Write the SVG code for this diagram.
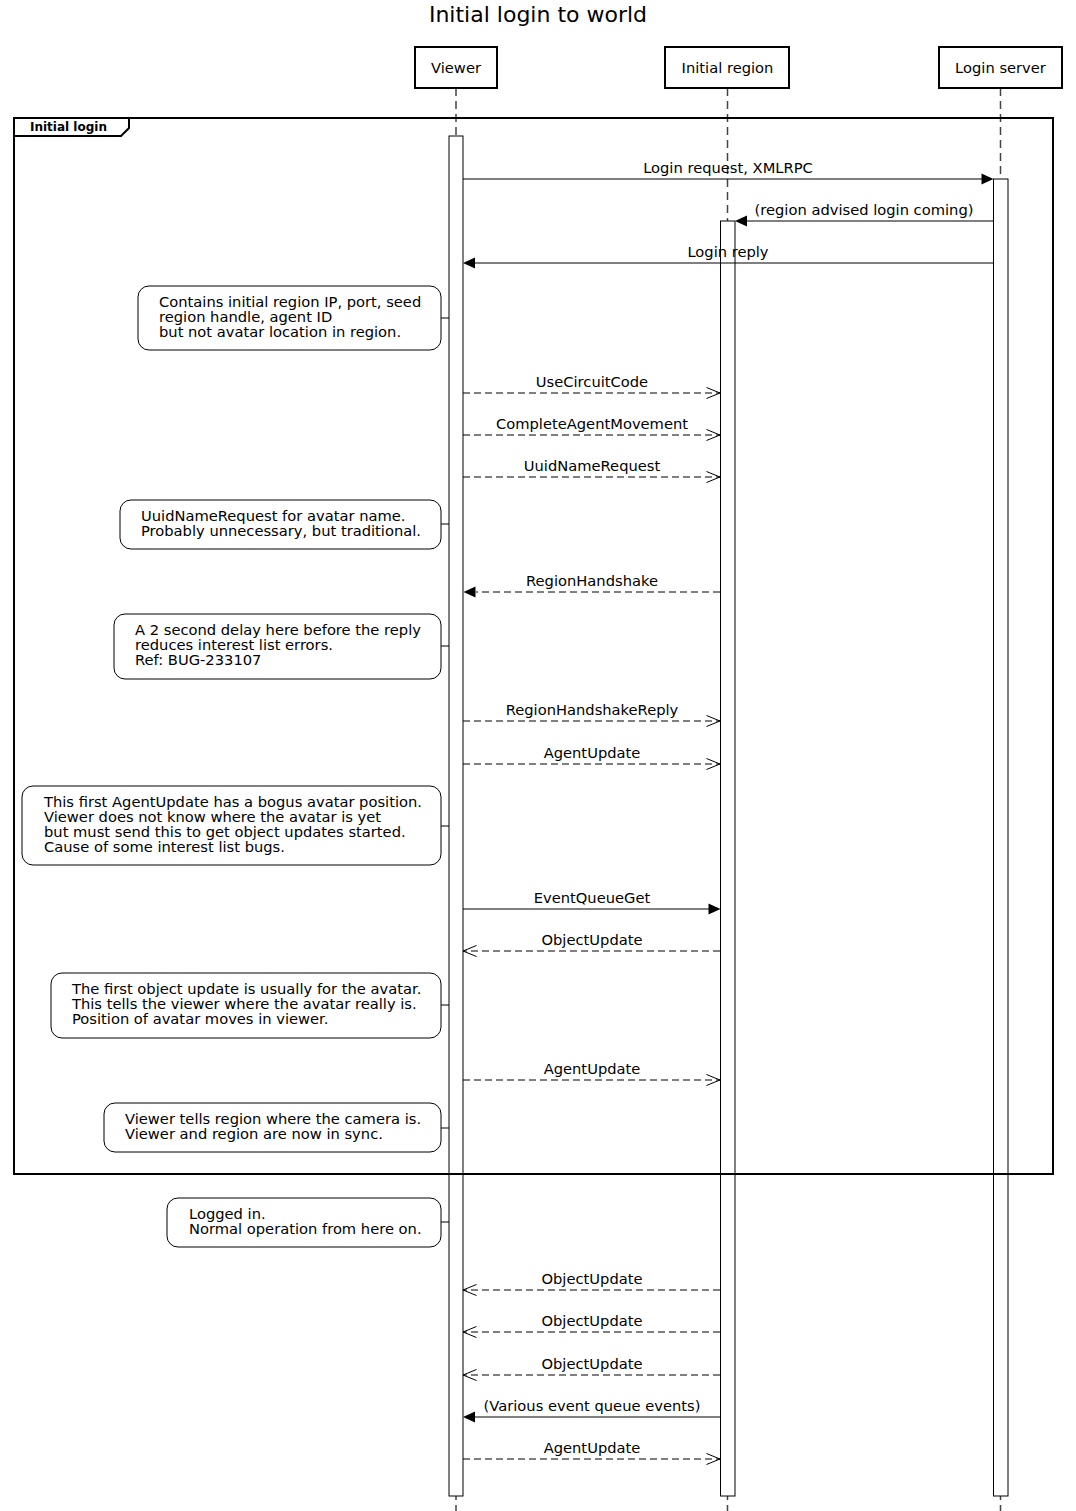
<svg xmlns="http://www.w3.org/2000/svg" width="1076" height="1511" viewBox="0 0 1076 1511">
<style>
text { font-family: "DejaVu Sans", "Liberation Sans", sans-serif; fill: #000; }
.title { font-size: 22px; text-anchor: middle; }
.lbl { font-size: 14.7px; text-anchor: middle; }
.note-t { font-size: 14.7px; }
.frame-t { font-size: 12px; font-weight: bold; }
.pbox { fill: #fff; stroke: #000; stroke-width: 2; }
.life { stroke: #444; stroke-width: 1.5; stroke-dasharray: 8 5; fill: none; }
.act { fill: #fff; stroke: #000; stroke-width: 1; }
.frame { fill: none; stroke: #000; stroke-width: 2; }
.note { fill: #fff; stroke: #000; stroke-width: 1; }
.msg { stroke: #000; stroke-width: 1; fill: none; }
.dash { stroke-dasharray: 7 4; }
.fill-head { fill: #000; stroke: none; }
.open-head { fill: none; stroke: #000; stroke-width: 1; }
</style>

<text class="title" x="538" y="22">Initial login to world</text>

<g id="lifelines">
  <line class="life" x1="456" y1="88" x2="456" y2="1511"/>
  <line class="life" x1="727.5" y1="88" x2="727.5" y2="1511"/>
  <line class="life" x1="1000.5" y1="88" x2="1000.5" y2="1511"/>
</g>

<g id="participant-viewer">
  <rect class="pbox" x="415" y="47" width="82" height="41"/>
  <text class="lbl" x="456" y="73">Viewer</text>
</g>
<g id="participant-region">
  <rect class="pbox" x="665" y="47" width="124" height="41"/>
  <text class="lbl" x="727.5" y="73">Initial region</text>
</g>
<g id="participant-login">
  <rect class="pbox" x="939" y="47" width="123" height="41"/>
  <text class="lbl" x="1000.5" y="73">Login server</text>
</g>

<g id="activations">
  <rect id="act-viewer" class="act" x="449" y="136" width="14" height="1360"/>
  <rect id="act-region" class="act" x="720.5" y="221" width="14.5" height="1275"/>
  <rect id="act-login" class="act" x="993.5" y="179" width="14.5" height="1317"/>
</g>

<g id="frame-initial-login">
  <rect class="frame" x="14" y="118" width="1039" height="1056"/>
  <polygon class="frame" points="14,118 129,118 129,128 121,136 14,136"/>
  <text class="frame-t" x="30" y="131">Initial login</text>
</g>

<g id="notes">
  <g id="note1">
    <rect class="note" x="138" y="286" width="303" height="64" rx="11"/>
    <line class="msg" x1="441" y1="318" x2="449" y2="318"/>
    <text class="note-t" x="159" y="307">Contains initial region IP, port, seed</text>
    <text class="note-t" x="159" y="322">region handle, agent ID</text>
    <text class="note-t" x="159" y="337">but not avatar location in region.</text>
  </g>
  <g id="note2">
    <rect class="note" x="120" y="500" width="321" height="49" rx="11"/>
    <line class="msg" x1="441" y1="524" x2="449" y2="524"/>
    <text class="note-t" x="141" y="521">UuidNameRequest for avatar name.</text>
    <text class="note-t" x="141" y="536">Probably unnecessary, but traditional.</text>
  </g>
  <g id="note3">
    <rect class="note" x="114" y="614" width="327" height="65" rx="11"/>
    <line class="msg" x1="441" y1="646" x2="449" y2="646"/>
    <text class="note-t" x="135" y="635">A 2 second delay here before the reply</text>
    <text class="note-t" x="135" y="650">reduces interest list errors.</text>
    <text class="note-t" x="135" y="665">Ref: BUG-233107</text>
  </g>
  <g id="note4">
    <rect class="note" x="22" y="786" width="419" height="79" rx="11"/>
    <line class="msg" x1="441" y1="826" x2="449" y2="826"/>
    <text class="note-t" x="44" y="807">This first AgentUpdate has a bogus avatar position.</text>
    <text class="note-t" x="44" y="822">Viewer does not know where the avatar is yet</text>
    <text class="note-t" x="44" y="837">but must send this to get object updates started.</text>
    <text class="note-t" x="44" y="852">Cause of some interest list bugs.</text>
  </g>
  <g id="note5">
    <rect class="note" x="51" y="973" width="390" height="65" rx="11"/>
    <line class="msg" x1="441" y1="1005" x2="449" y2="1005"/>
    <text class="note-t" x="72" y="994">The first object update is usually for the avatar.</text>
    <text class="note-t" x="72" y="1009">This tells the viewer where the avatar really is.</text>
    <text class="note-t" x="72" y="1024">Position of avatar moves in viewer.</text>
  </g>
  <g id="note6">
    <rect class="note" x="104" y="1103" width="337" height="49" rx="11"/>
    <line class="msg" x1="441" y1="1128" x2="449" y2="1128"/>
    <text class="note-t" x="125" y="1124">Viewer tells region where the camera is.</text>
    <text class="note-t" x="125" y="1139">Viewer and region are now in sync.</text>
  </g>
  <g id="note7">
    <rect class="note" x="167" y="1198" width="274" height="49" rx="11"/>
    <line class="msg" x1="441" y1="1222" x2="449" y2="1222"/>
    <text class="note-t" x="189" y="1219">Logged in.</text>
    <text class="note-t" x="189" y="1234">Normal operation from here on.</text>
  </g>
</g>

<g id="connectors">
  <line class="msg" x1="463" y1="179" x2="982" y2="179"/>
  <polygon class="fill-head" points="993.5,179 981.5,173.5 981.5,184.5"/>
  <text class="lbl" x="728" y="173">Login request, XMLRPC</text>

  <line class="msg" x1="993.5" y1="221" x2="746" y2="221"/>
  <polygon class="fill-head" points="735,221 747,215.5 747,226.5"/>
  <text class="lbl" x="864" y="215">(region advised login coming)</text>

  <line class="msg" x1="993.5" y1="263" x2="474" y2="263"/>
  <polygon class="fill-head" points="463,263 475,257.5 475,268.5"/>
  <text class="lbl" x="728" y="257">Login reply</text>

  <line class="msg dash" x1="463" y1="393" x2="720" y2="393"/>
  <polyline class="open-head" points="706.5,387.5 720,393 706.5,398.5"/>
  <text class="lbl" x="592" y="387">UseCircuitCode</text>

  <line class="msg dash" x1="463" y1="435" x2="720" y2="435"/>
  <polyline class="open-head" points="706.5,429.5 720,435 706.5,440.5"/>
  <text class="lbl" x="592" y="429">CompleteAgentMovement</text>

  <line class="msg dash" x1="463" y1="477" x2="720" y2="477"/>
  <polyline class="open-head" points="706.5,471.5 720,477 706.5,482.5"/>
  <text class="lbl" x="592" y="471">UuidNameRequest</text>

  <line class="msg dash" x1="720" y1="592" x2="476" y2="592"/>
  <polygon class="fill-head" points="463.5,592 475.5,586.5 475.5,597.5"/>
  <text class="lbl" x="592" y="586">RegionHandshake</text>

  <line class="msg dash" x1="463" y1="721" x2="720" y2="721"/>
  <polyline class="open-head" points="706.5,715.5 720,721 706.5,726.5"/>
  <text class="lbl" x="592" y="715">RegionHandshakeReply</text>

  <line class="msg dash" x1="463" y1="764" x2="720" y2="764"/>
  <polyline class="open-head" points="706.5,758.5 720,764 706.5,769.5"/>
  <text class="lbl" x="592" y="758">AgentUpdate</text>

  <line class="msg" x1="463" y1="909" x2="709" y2="909"/>
  <polygon class="fill-head" points="720.5,909 708.5,903.5 708.5,914.5"/>
  <text class="lbl" x="592" y="903">EventQueueGet</text>

  <line class="msg dash" x1="720" y1="951" x2="463" y2="951"/>
  <polyline class="open-head" points="476.5,945.5 463,951 476.5,956.5"/>
  <text class="lbl" x="592" y="945">ObjectUpdate</text>

  <line class="msg dash" x1="463" y1="1080" x2="720" y2="1080"/>
  <polyline class="open-head" points="706.5,1074.5 720,1080 706.5,1085.5"/>
  <text class="lbl" x="592" y="1074">AgentUpdate</text>

  <line class="msg dash" x1="720" y1="1290" x2="463" y2="1290"/>
  <polyline class="open-head" points="476.5,1284.5 463,1290 476.5,1295.5"/>
  <text class="lbl" x="592" y="1284">ObjectUpdate</text>

  <line class="msg dash" x1="720" y1="1332" x2="463" y2="1332"/>
  <polyline class="open-head" points="476.5,1326.5 463,1332 476.5,1337.5"/>
  <text class="lbl" x="592" y="1326">ObjectUpdate</text>

  <line class="msg dash" x1="720" y1="1375" x2="463" y2="1375"/>
  <polyline class="open-head" points="476.5,1369.5 463,1375 476.5,1380.5"/>
  <text class="lbl" x="592" y="1369">ObjectUpdate</text>

  <line class="msg" x1="720" y1="1417" x2="474" y2="1417"/>
  <polygon class="fill-head" points="463,1417 475,1411.5 475,1422.5"/>
  <text class="lbl" x="592" y="1411">(Various event queue events)</text>

  <line class="msg dash" x1="463" y1="1459" x2="720" y2="1459"/>
  <polyline class="open-head" points="706.5,1453.5 720,1459 706.5,1464.5"/>
  <text class="lbl" x="592" y="1453">AgentUpdate</text>
</g>
</svg>
